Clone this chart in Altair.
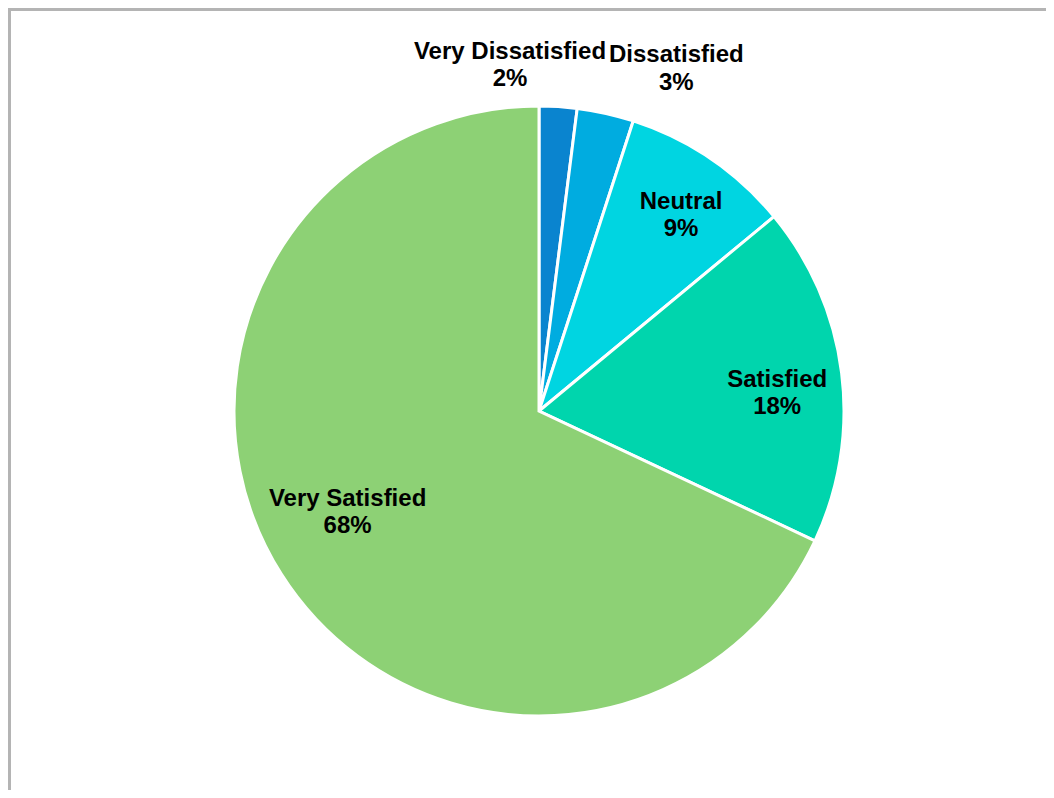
import math
import altair as alt
import pandas as pd

categories = ["Very Dissatisfied", "Dissatisfied", "Neutral", "Satisfied", "Very Satisfied"]
percents = [2, 3, 9, 18, 68]
colors = ["#0a84cf", "#00ace0", "#00d5e1", "#00d5ad", "#8dd175"]

df = pd.DataFrame({"category": categories, "value": percents, "idx": list(range(len(categories)))})

W, H = 1035, 779
CX, CY, R = 528, 400, 305

color = alt.Color("category:N", scale=alt.Scale(domain=categories, range=colors), legend=None)

base = alt.Chart(df)

pie = base.mark_arc(radius=R, stroke="white", strokeWidth=3).encode(
    theta=alt.Theta("value:Q", stack=True),
    order=alt.Order("idx:Q"),
    color=color,
    x=alt.value(CX),
    y=alt.value(CY),
)

label_base = (
    base.transform_window(cum="sum(value)", sort=[alt.SortField("idx")], frame=[None, 0])
    .transform_joinaggregate(total="sum(value)")
    .transform_calculate(
        mid="(datum.cum - datum.value / 2) / datum.total",
        label="[datum.category, datum.value + '%']",
    )
)

# label placement: (radius, dx, dy)
placement = {
    "Very Dissatisfied": (350, -51, -10),
    "Dissatisfied": (350, 61, -14),
    "Neutral": (235, 10, -15),
    "Satisfied": (235, 5, -2),
    "Very Satisfied": (235, 7, -38),
}

layers = [pie]
for cat, (r, dx, dy) in placement.items():
    layers.append(
        label_base.transform_filter(alt.datum.category == cat)
        .mark_text(
            font="Liberation Sans",
            fontWeight="bold",
            fontSize=24,
            lineHeight=27.5,
            dx=dx,
            dy=dy,
            color="black",
            align="center",
            baseline="middle",
        )
        .encode(
            theta=alt.Theta("mid:Q", scale=alt.Scale(domain=[0, 1], range=[0, 2 * math.pi]), stack=None),
            radius=alt.value(r),
            text="label:N",
            x=alt.value(CX),
            y=alt.value(CY),
        )
    )

frame_top = base.mark_rule(color="#b4b4b4", strokeWidth=3).encode(
    x=alt.value(-3), x2=alt.value(W + 10), y=alt.value(-1.5)
)
frame_left = base.mark_rule(color="#b4b4b4", strokeWidth=3).encode(
    x=alt.value(-1.5), y=alt.value(-3), y2=alt.value(H + 10)
)
layers += [frame_top, frame_left]

chart = (
    alt.layer(*layers)
    .resolve_scale(theta="independent")
    .properties(
        width=W,
        height=H,
        autosize=alt.AutoSizeParams(type="none"),
        padding={"left": 3, "top": 3, "right": 0, "bottom": 0},
    )
    .configure_view(stroke=None)
)

chart.save("out.html", embed_options={"renderer": "svg", "actions": False})
